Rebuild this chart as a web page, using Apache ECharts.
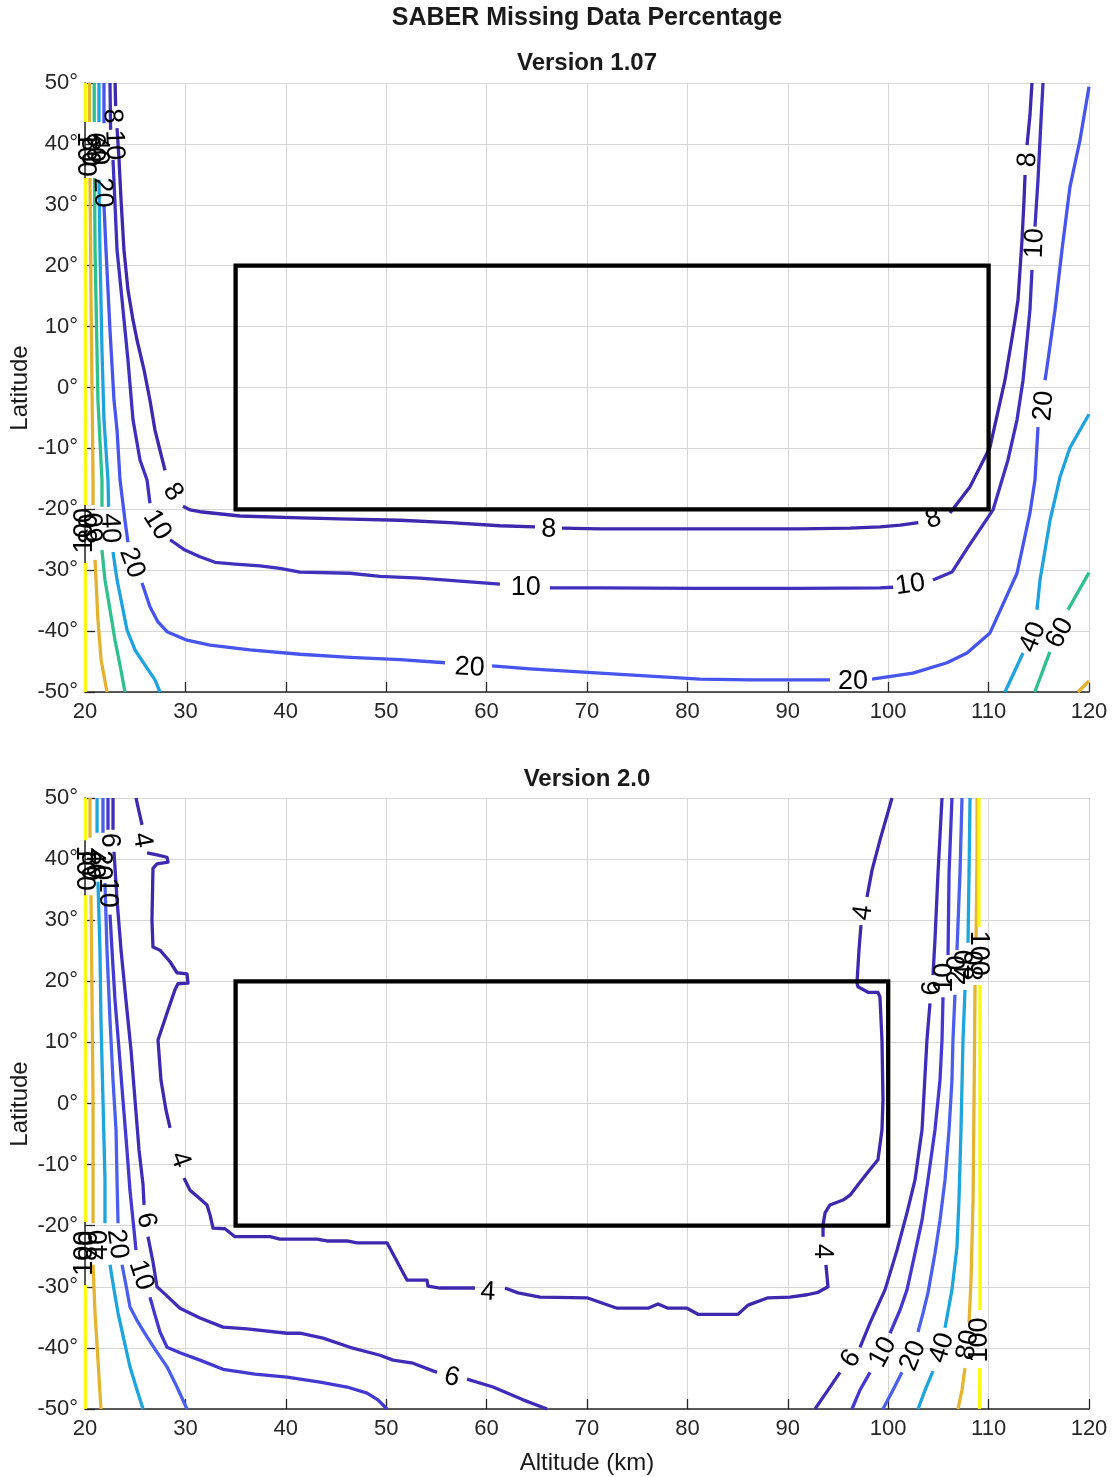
<!DOCTYPE html>
<html>
<head>
<meta charset="utf-8">
<script src="https://cdn.jsdelivr.net/npm/echarts@6/dist/echarts.min.js"></script>
<style>
  html, body { margin: 0; padding: 0; background: #ffffff; }
  #chart { width: 1115px; height: 1477px; }
</style>
</head>
<body>
<div id="chart"></div>
<script>
// ---------------------------------------------------------------
// Axes
// ---------------------------------------------------------------
const altitudeRange = [20, 120];   // km
const latitudeRange = [-50, 50];   // degrees
const altitudeStep = 10;
const latitudeStep = 10;

// Region of interest (altitude km, latitude deg)
const v107_boxAlt = [35, 110];
const v107_boxLat = [-20, 20];
const v20_boxAlt = [35, 100];
const v20_boxLat = [-20, 20];

// ---------------------------------------------------------------
// Version 1.07 contours: each level is a list of line pieces,
// every piece a list of [altitude km, latitude deg]
// ---------------------------------------------------------------
const v107_levels = [8, 10, 20, 40, 60, 80, 100];

const v107_c8 = [
  [[23.0,50],[23.05,46.2]],
  [[23.19,42.6],[23.39,37.4],[23.59,30.8],[23.88,22.6],[24.28,16.0],[24.78,11.1],[25.18,7.8],[25.88,2.9],[26.47,-2.1],[26.97,-7.0],[27.47,-10.3],[27.97,-13.6]],
  [[29.76,-19.5],[30.46,-20.1],[31.45,-20.4],[35.44,-21.1],[41.41,-21.4],[46.39,-21.6],[51.37,-21.8],[56.35,-22.2],[61.33,-22.7],[64.82,-22.9]],
  [[67.5,-23.1],[71.3,-23.2],[81.25,-23.2],[91.2,-23.2],[96.2,-23.1],[99.2,-22.9],[101.2,-22.6],[103.0,-22.2]],
  [[106.15,-20.6],[108.15,-16.3],[110.14,-9.8],[111.63,1.2],[112.13,6.1],[112.63,11.1],[112.93,14.4],[113.13,19.3],[113.33,24.3],[113.53,30.8],[113.63,34.9]],
  [[113.83,39.8],[114.12,44.7],[114.32,50]]
];
const v107_c10 = [
  [[22.49,50],[22.55,42.3]],
  [[22.79,37.4],[23.19,22.6],[23.69,14.4],[24.28,4.5],[24.78,-5.3],[25.48,-11.9],[26.18,-15.2],[26.47,-19.0]],
  [[28.47,-25.0],[29.96,-26.7],[31.45,-27.8],[32.95,-28.7],[34.94,-29.0],[37.43,-29.3],[39.42,-29.7],[41.41,-30.3],[46.39,-30.5],[49.38,-31.0],[53.37,-31.3],[57.35,-31.8],[61.33,-32.3]],
  [[66.3,-32.9],[71.3,-32.9],[81.25,-33.0],[91.2,-33.0],[99.2,-32.9],[100.5,-32.8]],
  [[104.46,-31.6],[106.35,-30.3],[107.95,-26.2],[110.44,-20.1],[111.93,-11.9],[112.83,-5.3],[113.43,1.2],[113.83,7.8],[114.12,12.8],[114.32,19.3]],
  [[114.62,26.4],[114.92,34.1],[115.22,43.9],[115.42,50]]
];
const v107_c20 = [
  [[21.89,50],[21.89,43.4]],
  [[21.89,30.0],[22.09,22.6],[22.49,9.4],[22.89,-2.1],[23.19,-7.0],[23.49,-15.2],[23.98,-21.8],[24.28,-25.4]],
  [[25.68,-32.1],[26.47,-36.0],[27.27,-38.5],[28.17,-40.1],[30.16,-41.5],[32.45,-42.3],[36.43,-43.1],[41.41,-43.8],[46.39,-44.3],[51.37,-44.7],[55.86,-45.2]],
  [[60.54,-45.7],[64.32,-46.2],[71.29,-46.9],[76.27,-47.4],[81.25,-47.9],[86.24,-48.0],[94.2,-48.0]],
  [[98.39,-47.9],[102.47,-46.9],[105.86,-45.2],[107.85,-43.6],[110.14,-40.3],[112.83,-30.5],[114.12,-20.6],[114.62,-15.2],[114.92,-6.5]],
  [[115.62,1.2],[115.92,4.5],[116.61,12.7],[117.31,22.6],[118.1,32.9],[119.1,40.6],[120,49.4]]
];
const v107_c40 = [
  [[21.39,50],[21.39,43.6]],
  [[21.39,34.1],[21.49,22.6],[21.69,6.2],[21.89,-5.3],[22.29,-15.2],[22.35,-19.6]],
  [[22.79,-27.0],[23.19,-31.6],[23.69,-35.7],[24.18,-39.8],[24.98,-43.1],[25.98,-45.6],[26.97,-48.0],[27.47,-50]],
  [[120,-4.4],[118.1,-9.9],[117.11,-14.7],[116.12,-21.8],[115.12,-31.6],[114.82,-36.5]],
  [[113.43,-43.6],[111.63,-50]]
];
const v107_c60 = [
  [[20.92,50],[20.92,43.6]],
  [[20.95,34.4],[21.0,22.6],[21.29,-2.1],[21.69,-15.2],[21.69,-19.6]],
  [[21.69,-26.7],[21.99,-31.6],[22.49,-36.5],[22.99,-41.5],[23.49,-45.6],[23.98,-50]],
  [[120,-30.4],[117.9,-36.5]],
  [[116.1,-43.4],[114.6,-50]]
];
const v107_c80 = [
  [[20.45,50],[20.45,43.6]],
  [[20.5,34.4],[20.6,14.4],[20.8,-15.2],[20.8,-19.3]],
  [[21.0,-28.3],[21.29,-38.2],[21.6,-44.7],[22.19,-50]],
  [[120,-48.2],[118.9,-50]]
];
const v107_c100 = [
  [[20.03,50],[20.03,43.6]],
  [[20.03,34.4],[20.03,-19.3]],
  [[20.03,-28.8],[20.03,-50]]
];

// inline contour labels: [altitude, latitude, level]
const v107_labels = [
  [22.7,44.6,8],[28.76,-17.2,8],[66.2,-23.3,8],[104.5,-21.6,8],[113.9,37.4,8],
  [22.9,39.8,10],[27.17,-22.6,10],[63.9,-32.9,10],[102.2,-32.4,10],[114.6,23.7,10],
  [21.75,32.0,20],[24.68,-28.8,20],[58.3,-46.0,20],[96.5,-48.3,20],[115.5,-3.0,20],
  [21.3,39.0,40],[22.49,-23.1,40],[114.42,-41.0,40],
  [20.9,39.5,60],[21.1,-23.0,60],[117.1,-40.3,60],
  [20.45,38.8,80],[20.5,-23.2,80],
  [20.0,38.3,100],[19.95,-23.5,100]
];
// text angle of each label above, degrees
const v107_labelAngles = [
  -88,-55,0,18,88,
  -88,-58,0,8,88,
  -88,-70,-3,0,85,
  -90,-88,68,
  -90,90,62,
  -90,90,
  -90,90
];

// ---------------------------------------------------------------
// Version 2.0 contours
// ---------------------------------------------------------------
const v20_levels = [4, 6, 10, 20, 40, 80, 100];

const v20_c4 = [
  [[25.08,50],[25.68,45.6]],
  [[26.18,41.0],[27.17,40.7],[28.17,40.3],[28.27,39.5],[27.17,39.2],[26.77,38.5],[26.67,30.0],[26.77,25.6],[27.47,25.1],[28.47,23.2],[29.16,21.4],[30.16,21.2],[30.26,19.7],[29.26,19.6],[28.96,18.6],[28.27,15.3],[27.27,10.4],[27.57,3.8],[28.07,-1.1],[28.47,-4.0]],
  [[29.86,-12.2],[30.46,-14.2],[31.25,-15.3],[32.15,-16.6],[32.45,-18.2],[32.75,-20.4],[33.94,-20.5],[34.94,-21.8],[38.43,-21.8],[39.42,-22.2],[43.11,-22.2],[44.1,-22.5],[46.1,-22.5],[47.09,-22.8],[50.08,-22.8],[52.07,-28.9],[54.06,-28.9],[54.16,-29.9],[55.36,-30.2],[58.84,-30.2]],
  [[61.83,-30.2],[63.13,-31.0],[65.32,-31.7],[70.0,-31.8],[72.99,-33.5],[76.08,-33.5],[77.07,-32.8],[78.07,-33.5],[79.96,-33.5],[81.06,-34.5],[85.04,-34.5],[86.04,-33.0],[88.03,-31.8],[90.22,-31.7],[91.91,-31.3],[93.01,-30.9],[94.0,-30.0],[93.8,-26.4]],
  [[93.51,-21.8],[93.51,-19.9],[93.71,-17.9],[94.2,-16.6],[95.5,-15.8],[96.2,-15.0],[96.99,-13.3],[97.99,-11.2],[98.98,-9.2],[99.38,-4.3],[99.48,0.6],[99.38,10.4],[99.18,17.4],[98.98,18.2],[97.99,18.2],[96.99,19.1],[96.89,19.7],[97.09,25.1],[97.29,29.2]],
  [[97.89,33.8],[98.39,38.2],[99.18,43.1],[100.38,50]]
];
const v20_c6 = [
  [[22.79,50],[22.79,44.8]],
  [[22.89,41.2],[23.19,33.3],[23.59,25.1],[24.08,16.9],[24.58,8.8],[24.98,0.6],[25.38,-7.6],[25.78,-13.3],[25.88,-16.6]],
  [[26.27,-21.8],[26.77,-25.9],[27.17,-30.0],[27.97,-31.2],[29.46,-33.5],[31.45,-35.1],[33.75,-36.6],[36.14,-36.9],[40.12,-37.6],[41.41,-37.6],[43.71,-38.4],[46.39,-39.9],[49.38,-41.2],[50.68,-42.0],[52.67,-42.5],[55.06,-44.0]],
  [[58.05,-45.1],[60.64,-46.4],[63.63,-48.5],[66.02,-50]],
  [[92.71,-50],[94.0,-46.9],[95.2,-44.0]],
  [[97.19,-39.9],[98.19,-35.9],[99.68,-30.5],[100.88,-24.0],[101.87,-17.9],[102.67,-12.5],[103.37,-4.3],[103.86,10.4],[104.16,16.4]],
  [[104.46,21.0],[104.66,26.8],[104.96,37.7],[105.36,50]]
];
const v20_c10 = [
  [[22.29,50],[22.29,44.8]],
  [[22.49,30.9],[22.69,25.1],[22.99,16.9],[23.39,8.8],[23.78,0.6],[24.18,-7.6],[24.48,-14.2],[24.88,-20.7],[25.08,-24.0]],
  [[26.47,-31.7],[26.97,-34.6],[27.47,-37.4],[28.17,-39.9],[29.46,-40.8],[31.45,-42.0],[33.75,-43.5],[36.93,-44.3],[40.12,-44.8],[43.41,-45.6],[46.1,-46.4],[48.09,-47.4],[49.18,-48.5],[50.08,-50]],
  [[96.39,-50],[97.19,-46.9],[98.19,-44.0]],
  [[100.18,-37.6],[101.18,-33.8],[101.87,-30.5],[102.67,-24.5],[103.37,-19.1],[103.96,-12.5],[104.66,-4.3],[105.16,3.8],[105.36,10.4],[105.46,17.4]],
  [[105.96,24.3],[106.06,37.7],[106.35,50]]
];
const v20_c20 = [
  [[21.79,50],[21.79,44.3]],
  [[21.99,36.1],[22.19,25.1],[22.49,13.7],[22.79,3.8],[23.09,-4.3],[23.19,-12.5],[23.29,-19.6]],
  [[23.69,-26.4],[24.08,-29.7],[24.48,-33.3],[25.28,-35.8],[26.18,-38.2],[27.17,-40.7],[28.17,-43.1],[29.16,-46.4],[30.16,-50]],
  [[99.48,-50],[100.48,-46.9],[101.37,-44.0]],
  [[102.97,-37.4],[103.47,-34.3],[103.96,-31.0],[104.66,-24.5],[105.16,-19.1],[105.66,-12.5],[106.06,-4.3],[106.35,3.8],[106.45,10.4],[106.65,17.8]],
  [[106.85,25.1],[107.15,37.7],[107.35,50]]
];
const v20_c40 = [
  [[21.2,50],[21.2,44.3]],
  [[21.29,36.3],[21.49,25.1],[21.59,13.7],[21.79,0.6],[21.99,-12.5],[21.99,-19.6]],
  [[22.49,-26.4],[22.89,-30.5],[23.29,-34.3],[23.88,-38.7],[24.48,-43.1],[25.18,-46.9],[25.78,-50]],
  [[102.97,-50],[103.67,-46.9],[104.46,-43.8]],
  [[105.66,-36.7],[106.35,-30.5],[106.85,-23.5],[107.05,-15.8],[107.25,-4.3],[107.45,10.4],[107.65,18.6]],
  [[107.95,26.3],[108.05,37.7],[108.15,50]]
];
const v20_c80 = [
  [[20.5,50],[20.5,43.5]],
  [[20.6,34.1],[20.7,16.9],[20.8,0.6],[20.8,-19.6]],
  [[20.8,-26.4],[21.0,-34.3],[21.29,-42.0],[21.59,-50]],
  [[106.95,-50],[107.35,-46.9],[107.65,-43.3]],
  [[108.05,-35.9],[108.25,-28.9],[108.45,-15.8],[108.55,0.6],[108.65,19.4]],
  [[108.75,26.8],[108.85,41.5],[108.85,50]]
];
const v20_c100 = [
  [[20.03,50],[20.03,43.1]],
  [[20.03,34.1],[20.03,-19.4]],
  [[20.03,-29.7],[20.03,-50]],
  [[109.1,-50],[109.12,-43.3]],
  [[109.14,-33.8],[109.14,19.4]],
  [[109.04,28.9],[109.04,50]]
];

const v20_labels = [
  [25.68,43.1,4],[29.46,-9.2,4],[60.14,-30.9,4],[93.5,-24.2,4],[97.5,31.2,4],
  [22.39,43.1,6],[26.08,-19.1,6],[56.55,-44.8,6],[96.3,-41.8,6],[104.46,18.9,6],
  [22.19,34.5,10],[25.58,-28.1,10],[99.48,-40.7,10],[105.66,20.6,10],
  [21.6,39.0,20],[23.2,-23.0,20],[102.47,-41.3,20],[106.9,21.8,20],
  [20.95,39.3,40],[21.45,-23.1,40],[105.36,-40.0,40],[107.75,22.7,40],
  [20.4,38.9,80],[20.5,-23.3,80],[107.95,-39.5,80],[108.7,22.6,80],
  [19.95,38.5,100],[19.95,-24.5,100],[109.14,-38.7,100],[108.94,24.6,100]
];
const v20_labelAngles = [
  -80,-70,-3,-90,82,
  -90,-78,-14,55,90,
  -90,-72,62,90,
  -90,-82,68,90,
  -90,90,72,90,
  -90,90,80,90,
  -90,90,90,-90
];

// ---------------------------------------------------------------
// Styling
// ---------------------------------------------------------------
const v107_colors = ['#3E28AE', '#4030BE', '#4754EE', '#1FA3DE', '#2EC08D', '#E3B22E', '#F9FB0E'];
const v20_colors  = ['#3E28AE', '#3F2DBA', '#4338D0', '#4A5FEE', '#1CA6DD', '#E5B530', '#F9FB0E'];

const FONT = "'Liberation Sans', Arial, Helvetica, sans-serif";
const INK = '#262626';

const chart = echarts.init(document.getElementById('chart'), null, { renderer: 'canvas' });

function makeAxes(gridIndex) {
  const xAxis = {
    type: 'value', gridIndex,
    min: altitudeRange[0], max: altitudeRange[1], interval: altitudeStep,
    axisLine: { show: true, onZero: false, lineStyle: { color: INK, width: 1.5 } },
    axisTick: { show: true, inside: true, length: 10, lineStyle: { color: INK, width: 1.3 } },
    axisLabel: { show: true, margin: 9, fontSize: 22, color: INK, fontFamily: FONT },
    splitLine: { show: true, lineStyle: { color: '#d6d6d6', width: 1 } }
  };
  const yAxis = {
    type: 'value', gridIndex,
    min: latitudeRange[0], max: latitudeRange[1], interval: latitudeStep,
    axisLine: { show: true, onZero: false, lineStyle: { color: INK, width: 1.5 } },
    axisTick: { show: true, inside: true, length: 10, lineStyle: { color: INK, width: 1.3 } },
    axisLabel: { show: true, margin: 7, fontSize: 22, color: INK, fontFamily: FONT,
                 formatter: v => v + '\u00B0' },
    splitLine: { show: true, lineStyle: { color: '#d6d6d6', width: 1 } }
  };
  return { xAxis, yAxis };
}

function contourSeries(levelPieces, colors, gridIndex) {
  const out = [];
  levelPieces.forEach((pieces, i) => {
    pieces.forEach(piece => {
      out.push({
        type: 'line', xAxisIndex: gridIndex, yAxisIndex: gridIndex,
        data: piece, showSymbol: false, symbol: 'none', silent: true,
        clip: true, z: 3,
        lineStyle: { color: colors[i], width: 3.3, join: 'round', cap: 'butt' }
      });
    });
  });
  return out;
}

function boxSeries(alt, lat, gridIndex) {
  const ring = [[alt[0], lat[1]], [alt[1], lat[1]], [alt[1], lat[0]], [alt[0], lat[0]], [alt[0], lat[1]], [alt[1], lat[1]]];
  return {
    type: 'line', xAxisIndex: gridIndex, yAxisIndex: gridIndex,
    data: ring, showSymbol: false, symbol: 'none', silent: true, z: 4,
    lineStyle: { color: '#000000', width: 4.3, join: 'miter', cap: 'square' }
  };
}

function labelSeries(labels, angles, gridIndex) {
  return {
    type: 'scatter', xAxisIndex: gridIndex, yAxisIndex: gridIndex,
    symbol: 'circle', symbolSize: 2, silent: true, z: 6, clip: false,
    itemStyle: { color: 'rgba(255,255,255,0)', borderWidth: 0 },
    label: { show: true, position: 'inside', color: '#000000', fontSize: 27, fontFamily: FONT,
             opacity: 1, formatter: p => p.name },
    labelLayout: { hideOverlap: false },
    data: labels.map((l, i) => ({
      name: String(l[2]),
      value: [l[0], l[1]],
      label: { rotate: angles[i] }
    }))
  };
}

const a0 = makeAxes(0);
const a1 = makeAxes(1);

const series = []
  .concat(contourSeries([v107_c8, v107_c10, v107_c20, v107_c40, v107_c60, v107_c80, v107_c100], v107_colors, 0))
  .concat([boxSeries(v107_boxAlt, v107_boxLat, 0), labelSeries(v107_labels, v107_labelAngles, 0)])
  .concat(contourSeries([v20_c4, v20_c6, v20_c10, v20_c20, v20_c40, v20_c80, v20_c100], v20_colors, 1))
  .concat([boxSeries(v20_boxAlt, v20_boxLat, 1), labelSeries(v20_labels, v20_labelAngles, 1)]);

function text(x, y, str, size, weight, rot) {
  return {
    type: 'text', x, y, rotation: rot || 0, silent: true, z: 10,
    style: {
      text: str, fill: '#1a1a1a', fontSize: size, fontWeight: weight, fontFamily: FONT,
      align: 'center', verticalAlign: 'middle', textAlign: 'center', textVerticalAlign: 'middle'
    }
  };
}

chart.setOption({
  animation: false,
  backgroundColor: '#ffffff',
  grid: [
    { left: 85, top: 83, width: 1004, height: 609, containLabel: false, outerBoundsMode: 'none' },
    { left: 85, top: 798, width: 1004, height: 611, containLabel: false, outerBoundsMode: 'none' }
  ],
  xAxis: [a0.xAxis, a1.xAxis],
  yAxis: [a0.yAxis, a1.yAxis],
  series,
  graphic: [
    text(587, 18, 'SABER Missing Data Percentage', 25, 'bold'),
    text(587, 63, 'Version 1.07', 24, 'bold'),
    text(587, 779, 'Version 2.0', 24, 'bold'),
    text(20, 388, 'Latitude', 24, 'normal', Math.PI / 2),
    text(20, 1104, 'Latitude', 24, 'normal', Math.PI / 2),
    text(587, 1463, 'Altitude (km)', 24, 'normal')
  ]
});
</script>
</body>
</html>
